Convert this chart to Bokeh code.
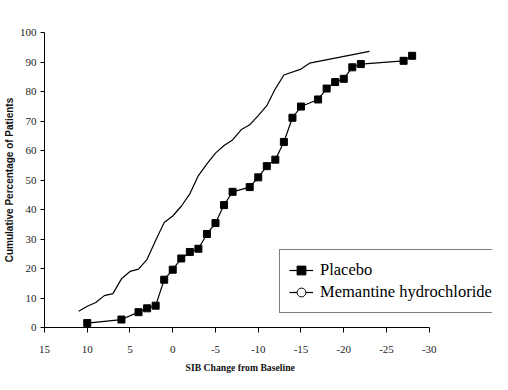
from bokeh.plotting import figure
from bokeh.models import Range1d, FixedTicker, Legend, LegendItem, Title
from bokeh.embed import file_html
from bokeh.resources import INLINE

# Data
placebo_x = [10, 6, 4, 3, 2, 1, 0, -1, -2, -3, -4, -5, -6, -7, -9, -10, -11, -12, -13, -14, -15, -17, -18, -19, -20, -21, -22, -27, -28]
placebo_y = [1.5, 2.7, 5.2, 6.5, 7.4, 16.2, 19.6, 23.4, 25.6, 26.7, 31.7, 35.4, 41.5, 46.0, 47.6, 50.9, 54.7, 56.9, 62.9, 71.1, 74.9, 77.3, 81.0, 83.2, 84.3, 88.2, 89.3, 90.4, 92.1]

meman_x = [11, 10, 9, 8, 7, 6, 5, 4, 3, 2, 1, 0, -1, -2, -3, -4, -5, -6, -7, -8, -9, -10, -11, -12, -13, -15, -16, -23]
meman_y = [5.5, 7.2, 8.5, 10.8, 11.5, 16.5, 19.0, 19.8, 23.1, 29.5, 35.6, 37.8, 41.1, 45.3, 51.5, 55.5, 59.1, 61.7, 63.6, 67.0, 68.7, 71.8, 75.2, 80.9, 85.6, 87.6, 89.6, 93.6]

x_ticks = [15, 10, 5, 0, -5, -10, -15, -20, -25, -30]
x_tick_labels = ["15", "10", "5", "0", "-5", "-10", "-15", "-20", "-25", "-30"]
y_ticks = [0, 10, 20, 30, 40, 50, 60, 70, 80, 90, 100]

# frame extends to the right edge so the legend is not clipped; the axis line stops at -30
p = figure(width=492, height=382, output_backend="svg", toolbar_location=None,
           x_range=Range1d(15, -37.4), y_range=Range1d(0, 100),
           min_border_left=35, min_border_right=0, min_border_top=32, min_border_bottom=55)
p.outline_line_color = None
p.xgrid.visible = False
p.ygrid.visible = False

for ax in (p.xaxis[0], p.yaxis[0]):
    ax.axis_line_color = "black"
    ax.major_tick_line_color = "black"
    ax.minor_tick_line_color = None
    ax.major_tick_in = 0
    ax.major_label_text_font = "Liberation Sans Narrow"
    ax.major_label_text_font_size = "11px"
    ax.major_label_text_color = "#222222"

p.xaxis.bounds = (15, -30)
p.xaxis.ticker = FixedTicker(ticks=x_ticks)
p.xaxis.major_label_overrides = {t: l for t, l in zip(x_ticks, x_tick_labels)}
p.xaxis.major_tick_out = 5
p.xaxis.major_label_standoff = 13

xlabel = Title(text="SIB Change from Baseline", align="left", offset=141,
               text_font="Liberation Sans Narrow", text_font_size="9.7px",
               text_font_style="bold", text_color="#111111", standoff=9)
p.add_layout(xlabel, "below")

p.yaxis.ticker = FixedTicker(ticks=y_ticks)
p.yaxis.major_tick_out = 4
p.yaxis.major_label_standoff = 4
p.yaxis.axis_label = "Cumulative Percentage of Patients"
p.yaxis.axis_label_text_font = "Liberation Sans"
p.yaxis.axis_label_text_font_size = "10px"
p.yaxis.axis_label_text_font_style = "bold"
p.yaxis.axis_label_text_color = "#111111"
p.yaxis.axis_label_standoff = 2

m_line = p.line(meman_x, meman_y, line_color="black", line_width=1.2)
m_marker = p.scatter(meman_x, meman_y, marker="circle", size=4, fill_color="white",
                     line_color="black", line_width=1, visible=False)
pl_line = p.line(placebo_x, placebo_y, line_color="black", line_width=1.2)
pl_marker = p.scatter(placebo_x, placebo_y, marker="square", size=7, fill_color="black",
                      line_color="black")

legend = Legend(items=[
    LegendItem(label="Placebo", renderers=[pl_line, pl_marker]),
    LegendItem(label="Memantine hydrochloride", renderers=[m_line, m_marker]),
], location=(235, 14))
legend.label_text_font = "Liberation Serif"
legend.label_text_font_size = "16.5px"
legend.label_text_color = "black"
legend.border_line_color = "black"
legend.border_line_width = 1
legend.background_fill_color = "white"
legend.background_fill_alpha = 1
legend.glyph_width = 24
legend.glyph_height = 22
legend.label_height = 22
legend.label_standoff = 7
legend.spacing = 0
legend.padding = 9
legend.margin = 0
legend.inactive_fill_alpha = 0
p.add_layout(legend, "center")

open("out.html", "w").write(file_html(p, INLINE))
